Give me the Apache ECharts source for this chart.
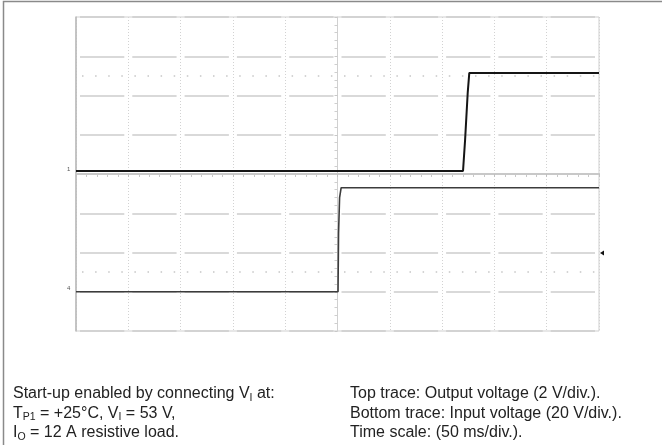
<!DOCTYPE html>
<html>
<head>
<meta charset="utf-8">
<script src="https://cdn.jsdelivr.net/npm/echarts@6/dist/echarts.min.js"></script>
<style>
html,body{margin:0;padding:0;background:#fff;}
#main{width:662px;height:445px;}
</style>
</head>
<body>
<div id="main"></div>
<script>
// Time (ms) from left edge of the screen, 50 ms/div, 10 divisions
const timeMin = 0, timeMax = 500, timeStep = 50;
// Top trace: output voltage (V), 2 V/div
const outTime = [0, 370, 372, 374.5, 376, 500];
const outVolt = [0, 0, 1.6, 4.0, 5.0, 5.0];
// Bottom trace: input voltage (V), 20 V/div
const inTime = [0, 250.5, 251, 252, 253.5, 500];
const inVolt = [0, 0, 30, 48, 53, 53];

const chart = echarts.init(document.getElementById('main'));
const FONT = 'Liberation Sans, Arial, sans-serif';
const gl = 76, gt = 17, gw = 523, gh = 314;

chart.setOption({
  animation: false,
  backgroundColor: '#fff',
  grid: { left: gl, top: gt, width: gw, height: gh, show: true, borderColor: '#cfcfcf', borderWidth: 1 },
  xAxis: [
    { type: 'value', min: timeMin, max: timeMax, interval: timeStep,
      axisLabel: { show: false }, axisTick: { show: false },
      axisLine: { show: true, lineStyle: { color: '#c4c4c4', width: 1.5 } },
      splitLine: { show: true, lineStyle: { color: '#d2d2d2', type: [1, 2], width: 1 } } },
    { type: 'value', min: -5, max: 5, interval: 1,
      axisLine: { show: true, onZero: true, onZeroAxisIndex: 1, lineStyle: { color: '#c8c8c8', width: 2 } },
      axisTick: { show: true, inside: true, length: 3, lineStyle: { color: '#c0c0c0' } },
      minorTick: { show: true, splitNumber: 5, length: 3, lineStyle: { color: '#c8c8c8' } },
      axisLabel: { show: false }, splitLine: { show: false } }
  ],
  yAxis: [
    { type: 'value', min: -4, max: 4, interval: 1, xAxisIndex: 0,
      axisLabel: { show: false }, axisTick: { show: false },
      axisLine: { show: true, onZero: false, lineStyle: { color: '#b8b8b8', width: 1.5 } },
      splitLine: { show: true, lineStyle: { color: '#cdcdcd', width: 1.5, type: [44.3, 8], dashOffset: 48.3 } } },
    { type: 'value', min: -4, max: 4, interval: 1,
      axisLine: { show: true, onZero: true, onZeroAxisIndex: 1, lineStyle: { color: '#d0d0d0', width: 1 } },
      axisTick: { show: true, inside: true, length: 3, lineStyle: { color: '#c8c8c8' } },
      minorTick: { show: true, splitNumber: 5, length: 3, lineStyle: { color: '#cfcfcf' } },
      axisLabel: { show: false }, splitLine: { show: false } },
    { type: 'value', min: -8.15, max: 7.85, show: false, splitLine: { show: false } },
    { type: 'value', min: -20, max: 140, show: false, splitLine: { show: false } }
  ],
  series: [
    { type: 'line', xAxisIndex: 0, yAxisIndex: 0, data: [], silent: true,
      markLine: { symbol: 'none', silent: true, label: { show: false },
        lineStyle: { color: '#c6c6c6', type: [1.5, 11.6], width: 1.5, dashOffset: -6 },
        data: [{ yAxis: 2.5 }, { yAxis: -2.5 }] } },
    { name: 'Input voltage', type: 'line', xAxisIndex: 0, yAxisIndex: 3, showSymbol: false,
      data: inTime.map((t, i) => [t, inVolt[i]]),
      lineStyle: { color: '#3c3c3c', width: 1.6 }, z: 3 },
    { name: 'Output voltage', type: 'line', xAxisIndex: 0, yAxisIndex: 2, showSymbol: false,
      data: outTime.map((t, i) => [t, outVolt[i]]),
      lineStyle: { color: '#151515', width: 2 }, z: 4 }
  ],
  graphic: [
    { type: 'rect', shape: { x: 3.5, y: 1.5, width: 700, height: 500 }, style: { fill: 'none', stroke: '#8a8a8a', lineWidth: 1.5 }, silent: true },
    { type: 'text', x: 67, y: 166, style: { text: '1', font: '6px ' + FONT, fill: '#555' } },
    { type: 'text', x: 67, y: 285, style: { text: '4', font: '6px ' + FONT, fill: '#555' } },
    { type: 'polygon', shape: { points: [[600, 253], [604, 250.5], [604, 255.5]] }, style: { fill: '#111' } },
    { type: 'text', x: 13, y: 384, style: {
        text: 'Start-up enabled by connecting V{s|I} at:\nT{s|P1} = +25°C, V{s|I} = 53 V,\nI{s|O} = 12 A resistive load.',
        font: '16px ' + FONT, fill: '#222', lineHeight: 19.5,
        rich: { s: { font: '10.5px ' + FONT, fill: '#222', verticalAlign: 'bottom', padding: [4, 0, 0, 0] } } } },
    { type: 'text', x: 350, y: 384, style: {
        text: 'Top trace: Output voltage (2 V/div.).\nBottom trace: Input voltage (20 V/div.).\nTime scale: (50 ms/div.).',
        font: '16px ' + FONT, fill: '#222', lineHeight: 19.5 } }
  ]
});
</script>
</body>
</html>
